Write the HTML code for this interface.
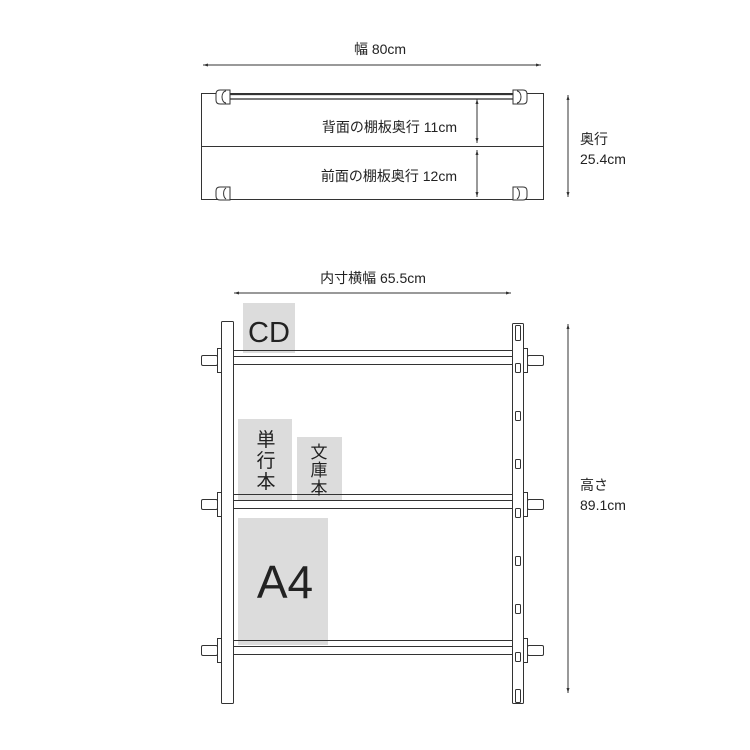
<!DOCTYPE html>
<html><head><meta charset="utf-8"><style>
html,body{margin:0;padding:0;background:#fff;}
svg{display:block}
text{font-family:"Liberation Sans","Noto Sans CJK JP",sans-serif;fill:#222}
</style></head><body>
<svg width="750" height="750" viewBox="0 0 750 750" xmlns="http://www.w3.org/2000/svg">
<defs>
<marker id="a" viewBox="0 0 10 10" refX="10" refY="5" markerWidth="5" markerHeight="5" orient="auto-start-reverse"><path d="M0,2 L10,5 L0,8z" fill="#333"/></marker>
</defs>
<g stroke="#333" stroke-width="1" fill="none">
<!-- top view -->
<line x1="203" y1="65" x2="541" y2="65" marker-start="url(#a)" marker-end="url(#a)"/>
<rect x="201.5" y="93.5" width="342" height="106" fill="#fff"/>
<line x1="201" y1="146.5" x2="543" y2="146.5"/>
<rect x="228" y="94.5" width="286" height="4.5" fill="#fff" stroke-width="1.3"/>
<path d="M220,90 h10 v14 h-10 q-4,0 -4,-4 v-6 q0,-4 4,-4z" fill="#fff"/>
<path d="M226,91 a4,6 0 0 0 0,12"/>
<path d="M513,90 h10 q4,0 4,4 v6 q0,4 -4,4 h-10z" fill="#fff"/>
<path d="M517,91 a4,6 0 0 1 0,12"/>
<path d="M220,187 h10 v13 h-10 q-4,0 -4,-4 v-5 q0,-4 4,-4z" fill="#fff"/>
<path d="M226,188 a4,6 0 0 0 0,11"/>
<path d="M513,187 h10 q4,0 4,4 v5 q0,4 -4,4 h-10z" fill="#fff"/>
<path d="M517,188 a4,6 0 0 1 0,11"/>
<line x1="477" y1="99" x2="477" y2="143" marker-start="url(#a)" marker-end="url(#a)"/>
<line x1="477" y1="150" x2="477" y2="197" marker-start="url(#a)" marker-end="url(#a)"/>
<line x1="568" y1="95" x2="568" y2="197" marker-start="url(#a)" marker-end="url(#a)"/>
<!-- front view -->
<line x1="234" y1="293" x2="511" y2="293" marker-start="url(#a)" marker-end="url(#a)"/>
<line x1="568" y1="324" x2="568" y2="693" marker-start="url(#a)" marker-end="url(#a)"/>
</g>
<!-- gray boxes -->
<g fill="#dcdcdc">
<rect x="243" y="303" width="52" height="50"/>
<rect x="238" y="419" width="54" height="81"/>
<rect x="297" y="437" width="45" height="63"/>
<rect x="238" y="518" width="90" height="127"/>
</g>
<g stroke="#333" stroke-width="1" fill="#fff">
<!-- shelves -->
<g id="s">
<rect x="233.5" y="350.5" width="279" height="6" fill="none"/>
<rect x="233.5" y="356.5" width="279" height="8"/>
<rect x="201.5" y="355.5" width="16" height="10" rx="1.5"/>
<path d="M217.5,348.5 l4,0 v24 l-4,0z"/>
<rect x="527.5" y="355.5" width="16" height="10" rx="1.5"/>
<path d="M523.5,348.5 l4,0 v24 l-4,0z"/>
</g>
<use href="#s" y="144"/>
<use href="#s" y="290"/>
<!-- posts -->
<rect x="221.5" y="321.5" width="12" height="382" rx="1"/>
<rect x="512.5" y="323.5" width="11" height="380" rx="1"/>
<g fill="none">
<rect x="515.5" y="325.5" width="5" height="15" rx="1"/>
<rect x="515.5" y="363.5" width="5" height="9" rx="1"/>
<rect x="515.5" y="411.5" width="5" height="9" rx="1"/>
<rect x="515.5" y="459.5" width="5" height="9" rx="1"/>
<rect x="515.5" y="508.5" width="5" height="9" rx="1"/>
<rect x="515.5" y="556.5" width="5" height="9" rx="1"/>
<rect x="515.5" y="604.5" width="5" height="9" rx="1"/>
<rect x="515.5" y="652.5" width="5" height="9" rx="1"/>
<rect x="515.5" y="689.5" width="5" height="13" rx="1"/>
</g>
</g>
<!-- text -->
<text x="380" y="54" font-size="14" text-anchor="middle">幅 80cm</text>
<text x="457" y="132" font-size="14" text-anchor="end">背面の棚板奥行 11cm</text>
<text x="457" y="181" font-size="14" text-anchor="end">前面の棚板奥行 12cm</text>
<text x="580" y="144" font-size="14">奥行</text>
<text x="580" y="164" font-size="14">25.4cm</text>
<text x="373" y="283" font-size="14" text-anchor="middle">内寸横幅 65.5cm</text>
<text x="580" y="490" font-size="14">高さ</text>
<text x="580" y="510" font-size="14">89.1cm</text>
<text x="269" y="342" font-size="29" text-anchor="middle" fill="#111">CD</text>
<text x="266" y="446" font-size="19" text-anchor="middle">単</text>
<text x="266" y="467" font-size="19" text-anchor="middle">行</text>
<text x="266" y="488" font-size="19" text-anchor="middle">本</text>
<text x="319" y="458" font-size="17" text-anchor="middle">文</text>
<text x="319" y="476" font-size="17" text-anchor="middle">庫</text>
<text x="319" y="494" font-size="17" text-anchor="middle">本</text>
<text x="285" y="598" font-size="46" text-anchor="middle" fill="#111">A4</text>
</svg>
</body></html>
